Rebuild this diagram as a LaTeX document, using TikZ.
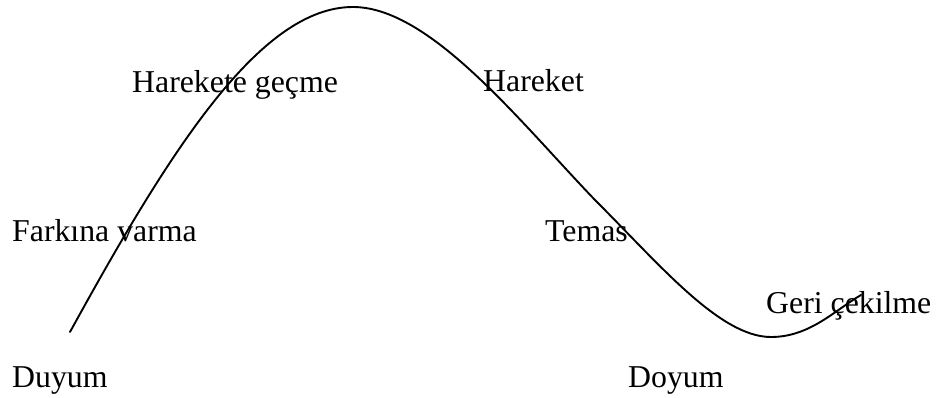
\documentclass[tikz,border=0pt]{standalone}
\usepackage{fontspec}
\setmainfont{Liberation Serif}
\begin{document}
\begin{tikzpicture}[x=1pt,y=-1pt,
  lbl/.style={anchor=base west,inner sep=0pt,font=\fontsize{31.8}{36}\selectfont}]
\useasboundingbox (0,0) rectangle (936,398);
\draw[line width=1.9pt,line cap=round]
  (70,332) .. controls (170,150) and (260,7) .. (353,7)
           .. controls (430,7) and (520,122) .. (595,200)
           .. controls (660,265) and (720,337) .. (771,337)
           .. controls (810,337) and (835,310) .. (861,295);
\node[lbl] (hg) at (132,93) {Harekete geçme};
\node[lbl] (hr) at (483,92) {Hareket};
\node[lbl] (fv) at (12,241) {Farkına varma};
\node[lbl] (tm) at (545,241) {Temas};
\node[lbl] (gc) at (766,313) {Geri çekilme};
\node[lbl] (du) at (12,387) {Duyum};
\node[lbl] (do) at (628,387) {Doyum};
\end{tikzpicture}
\end{document}
